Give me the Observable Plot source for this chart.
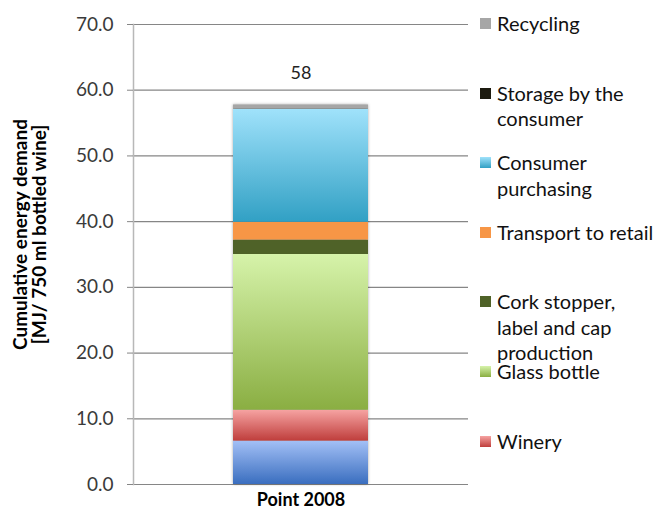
<!DOCTYPE html>
<html>
<head>
<meta charset="utf-8">
<script src="https://cdn.jsdelivr.net/npm/d3@7"></script>
<script src="https://cdn.jsdelivr.net/npm/@observablehq/plot@0.6"></script>
<style>
  html, body { margin: 0; padding: 0; background: #fff; overflow: hidden; }
  #wrap { position: relative; width: 658px; height: 508px; font-family: Lato, "Open Sans", sans-serif; }
  #legend { position: absolute; left: 480px; top: 11px; }
  .entry { height: 69.6px; display: flex; align-items: flex-start; }
  .sw { width: 11px; height: 11px; margin-top: 7px; margin-right: 6px; flex: none; }
  .lab { font-size: 20px; line-height: 25.5px; color: #111; width: 160px; }
</style>
</head>
<body>
<div id="wrap"><div id="chart"></div><div id="legend"></div></div>
<script>
const categories = ["Vineyard", "Winery", "Glass bottle", "Cork stopper, label and cap production", "Transport to retail", "Consumer purchasing", "Storage by the consumer", "Recycling"];
const values = [6.6, 4.7, 23.7, 2.2, 2.7, 17.2, 0.05, 0.6];
const topColors = ["#a3c0f6", "#f6a3a2", "#d6f3aa", "#4f6228", "#f79646", "#a0e2fb", "#1d1b10", "#a6a6a6"];
const bottomColors = ["#3a6ebf", "#bf3e3c", "#8aae42", "#4f6228", "#f79646", "#31a0c4", "#1d1b10", "#a6a6a6"];
const legendCategories = ["Recycling", "Storage by the consumer", "Consumer purchasing", "Transport to retail", "Cork stopper, label and cap production", "Glass bottle", "Winery"];
const barLabel = "Point 2008";
const totalLabel = "58";
const yTicks = [0, 10, 20, 30, 40, 50, 60, 70];
const yTitle = "Cumulative energy demand\n[MJ/ 750 ml bottled wine]";

const data = categories.map((c, i) => ({category: c, value: values[i], bar: barLabel}));
const total = d3.sum(values);

const chart = Plot.plot({
  width: 658,
  height: 508,
  marginLeft: 133,
  marginRight: 190,
  marginTop: 24,
  marginBottom: 24,
  style: {fontFamily: "Lato, 'Open Sans', sans-serif", color: "#3a3a3a", background: "#fff"},
  x: {domain: [barLabel], padding: 0.425, label: null},
  y: {domain: [0, 70], label: null},
  color: {domain: categories, range: categories.map((_, i) => `url(#grad${i})`)},
  marks: [
    Plot.gridY(yTicks, {stroke: "#868686", strokeOpacity: 1, strokeWidth: 1.2}),
    Plot.frame({anchor: "left", stroke: "#b8b8b8", strokeWidth: 1.5}),
    Plot.axisY(yTicks, {tickFormat: d => d.toFixed(1), tickSize: 6, tickPadding: 14, fontSize: 19, stroke: "#868686", label: null}),
    Plot.axisX({tickSize: 0, tickPadding: 9, fontSize: 18, fontWeight: "bold", fill: "#000", label: null}),
    Plot.barY(data, {x: "bar", y: "value", fill: "category"}),
    Plot.text([totalLabel], {x: () => barLabel, y: () => total, dy: -32, fontSize: 18, fill: "#222"}),
    Plot.text([yTitle], {frameAnchor: "left", textAnchor: "middle", dx: -103, dy: -20, rotate: -90, fontWeight: "bold", fontSize: 19, lineHeight: 1.02, fill: "#000"})
  ]
});

const svg = d3.select(chart);
const defs = svg.insert("defs", ":first-child");
categories.forEach((c, i) => {
  const g = defs.append("linearGradient").attr("id", `grad${i}`).attr("x1", 0).attr("y1", 0).attr("x2", 0).attr("y2", 1);
  g.append("stop").attr("offset", "0%").attr("stop-color", topColors[i]);
  g.append("stop").attr("offset", "100%").attr("stop-color", bottomColors[i]);
});
svg.selectAll("g[aria-label=bar]").style("filter", "drop-shadow(0px 0px 1.5px rgba(0,0,0,0.35))");
document.getElementById("chart").appendChild(chart);

const legend = d3.select("#legend");
legendCategories.forEach(c => {
  const i = categories.indexOf(c);
  const e = legend.append("div").attr("class", "entry");
  e.append("div").attr("class", "sw").style("background", `linear-gradient(${topColors[i]}, ${bottomColors[i]})`);
  e.append("div").attr("class", "lab").text(c);
});
</script>
</body>
</html>
